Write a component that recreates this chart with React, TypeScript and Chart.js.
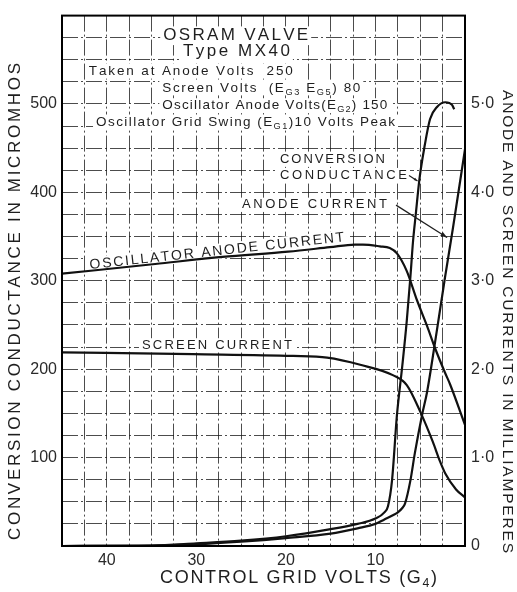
import React, { useEffect, useRef } from 'react';
import { Chart, registerables } from 'chart.js';
Chart.register(...registerables);

// ---------- data ----------
const xTickLabels = [40, 30, 20, 10];
const leftTickLabels = [100, 200, 300, 400, 500];
const rightTickLabels = [0, 1, 2, 3, 4, 5];

// Conversion conductance (micromhos) vs control grid volts
const convVolts = [45, 35, 30, 25, 20, 15, 12, 10, 9, 8.6, 8.15, 7.6, 7.0, 6.5, 6.1, 5.8, 5.5, 5.1, 4.5, 3.9, 3.1, 2.2, 1.45, 1.2];
const convMicromhos = [0, 0.5, 3, 6, 11, 19, 25, 31, 38, 45, 74, 148, 204, 255, 304, 345, 375, 414, 453, 483, 497, 502, 499, 494];

// Anode current (mA)
const anodeVolts = [45, 35, 30, 25, 20, 15, 12, 10, 9, 8, 7.5, 7.0, 6.7, 6.1, 5.6, 4.8, 4.24, 3.35, 2.23, 1.34, 0];
const anodeMA = [0, 0.005, 0.02, 0.05, 0.09, 0.14, 0.2, 0.25, 0.3, 0.35, 0.38, 0.43, 0.48, 0.74, 1.05, 1.48, 1.74, 2.3, 3.04, 3.6, 4.49];

// Oscillator anode current (mA)
const oscVolts = [45, 34.6, 27.1, 19.75, 15.1, 12.3, 11.4, 9.5, 8.4, 7.6, 6.5, 5.36, 4.24, 3.35, 2.23, 1.67, 0];
const oscMA = [3.08, 3.19, 3.27, 3.33, 3.38, 3.41, 3.41, 3.39, 3.37, 3.31, 3.11, 2.78, 2.49, 2.24, 1.96, 1.83, 1.37];

// Screen current (mA)
const screenVolts = [45, 30.4, 19.2, 15.4, 11.7, 8.0, 6.5, 5.0, 3.6, 2.8, 2.2, 1.0, 0];
const screenMA = [2.19, 2.17, 2.15, 2.13, 2.05, 1.93, 1.82, 1.52, 1.18, 0.96, 0.82, 0.64, 0.55];

// ---------- text ----------
const FONT = '"Liberation Sans", Arial, Helvetica, sans-serif';
const INK = '#1e1e1e';

type Part = { t: string; sub?: boolean };
type PlotLabel = { parts: Part[]; v: number; m: number; size: number; width: number; angle?: number };

const plotLabels: PlotLabel[] = [
  { parts: [{ t: 'OSRAM VALVE' }], v: 33.7, m: 572, size: 17, width: 145 },
  { parts: [{ t: 'Type MX40' }], v: 31.5, m: 554, size: 17, width: 107 },
  { parts: [{ t: 'Taken at Anode Volts  250' }], v: 42.0, m: 533, size: 13.5, width: 204 },
  { parts: [{ t: 'Screen Volts  (E' }, { t: 'G3', sub: true }, { t: ' E' }, { t: 'G5', sub: true }, { t: ') 80' }], v: 33.8, m: 514, size: 13.5, width: 198 },
  { parts: [{ t: 'Oscillator Anode Volts(E' }, { t: 'G2', sub: true }, { t: ') 150' }], v: 33.8, m: 494, size: 13.5, width: 225 },
  { parts: [{ t: 'Oscillator Grid Swing (E' }, { t: 'G1', sub: true }, { t: ')10 Volts Peak' }], v: 41.2, m: 475.6, size: 13.5, width: 299 },
  { parts: [{ t: 'CONVERSION' }], v: 20.66, m: 433, size: 13, width: 105 },
  { parts: [{ t: 'CONDUCTANCE' }], v: 20.66, m: 415.6, size: 13, width: 127 },
  { parts: [{ t: 'ANODE CURRENT' }], v: 24.9, m: 382, size: 13, width: 145 },
  { parts: [{ t: 'SCREEN CURRENT' }], v: 36.07, m: 223, size: 13, width: 150 },
  { parts: [{ t: 'OSCILLATOR ANODE CURRENT' }], v: 41.87, m: 313.3, size: 14, width: 256, angle: -6.2 },
];

// arrows in data units [fromV, fromM, toV, toM]
const anodeArrow = [7.7, 385.6, 2.0, 349];
const convArrow = [6.25, 419, 5.3, 413];

function drawSpaced(ctx: CanvasRenderingContext2D, parts: Part[], size: number, width: number) {
  const chars: { c: string; font: string; dy: number; w: number }[] = [];
  for (const p of parts) {
    const fs = p.sub ? size * 0.68 : size;
    const font = `${fs}px ${FONT}`;
    ctx.font = font;
    for (const c of p.t) chars.push({ c, font, dy: p.sub ? size * 0.22 : 0, w: ctx.measureText(c).width });
  }
  const nat = chars.reduce((a, b) => a + b.w, 0);
  const extra = chars.length > 1 ? (width - nat) / (chars.length - 1) : 0;
  let x = 0;
  ctx.textBaseline = 'alphabetic';
  ctx.textAlign = 'left';
  for (const ch of chars) {
    ctx.font = ch.font;
    ctx.fillText(ch.c, x, ch.dy);
    x += ch.w + extra;
  }
}

function drawLabel(ctx: CanvasRenderingContext2D, parts: Part[], x: number, y: number, size: number, width: number, angleDeg: number, bg: boolean) {
  ctx.save();
  ctx.translate(x, y);
  ctx.rotate((angleDeg * Math.PI) / 180);
  if (bg) {
    ctx.fillStyle = '#ffffff';
    ctx.fillRect(-3, -size * 0.82, width + 6, size * 1.1);
  }
  ctx.fillStyle = INK;
  drawSpaced(ctx, parts, size, width);
  ctx.restore();
}

function arrow(ctx: CanvasRenderingContext2D, x1: number, y1: number, x2: number, y2: number, head: number) {
  ctx.beginPath();
  ctx.moveTo(x1, y1);
  ctx.lineTo(x2, y2);
  ctx.stroke();
  const a = Math.atan2(y2 - y1, x2 - x1);
  ctx.beginPath();
  ctx.moveTo(x2, y2);
  ctx.lineTo(x2 - head * Math.cos(a - 0.35), y2 - head * Math.sin(a - 0.35));
  ctx.lineTo(x2 - head * Math.cos(a + 0.35), y2 - head * Math.sin(a + 0.35));
  ctx.closePath();
  ctx.fill();
}

const annotPlugin = {
  id: 'annot',
  beforeDatasetsDraw(chart: any) {
    const ctx: CanvasRenderingContext2D = chart.ctx;
    const xs = chart.scales.x;
    const ys = chart.scales.y;
    for (const L of plotLabels) {
      drawLabel(ctx, L.parts, xs.getPixelForValue(L.v), ys.getPixelForValue(L.m), L.size, L.width, L.angle || 0, true);
    }
  },
  afterDatasetsDraw(chart: any) {
    const ctx: CanvasRenderingContext2D = chart.ctx;
    const xs = chart.scales.x;
    const ys = chart.scales.y;
    ctx.save();
    ctx.strokeStyle = INK;
    ctx.fillStyle = INK;
    ctx.lineWidth = 1.2;
    arrow(ctx, xs.getPixelForValue(anodeArrow[0]), ys.getPixelForValue(anodeArrow[1]), xs.getPixelForValue(anodeArrow[2]), ys.getPixelForValue(anodeArrow[3]), 7);
    arrow(ctx, xs.getPixelForValue(convArrow[0]), ys.getPixelForValue(convArrow[1]), xs.getPixelForValue(convArrow[2]), ys.getPixelForValue(convArrow[3]), 4);
    // frame
    const a = chart.chartArea;
    ctx.lineWidth = 2;
    ctx.strokeStyle = '#000';
    ctx.strokeRect(a.left, a.top, a.right - a.left, a.bottom - a.top);
    ctx.restore();

    // axis titles
    ctx.save();
    ctx.fillStyle = INK;
    // left (reads bottom to top)
    ctx.save();
    ctx.translate(20, 540);
    ctx.rotate(-Math.PI / 2);
    drawSpaced(ctx, [{ t: 'CONVERSION CONDUCTANCE IN MICROMHOS' }], 17, 477);
    ctx.restore();
    // right (reads top to bottom)
    ctx.save();
    ctx.translate(503, 90);
    ctx.rotate(Math.PI / 2);
    drawSpaced(ctx, [{ t: 'ANODE AND SCREEN CURRENTS IN MILLIAMPERES' }], 15.5, 463);
    ctx.restore();
    // bottom
    ctx.save();
    ctx.translate(160, 583);
    drawSpaced(ctx, [{ t: 'CONTROL GRID VOLTS (G' }, { t: '4', sub: true }, { t: ')' }], 18, 277);
    ctx.restore();
    ctx.restore();
  },
};

const zip = (xs: number[], ys: number[]) => xs.map((x, i) => ({ x, y: ys[i] }));

const gridColor = 'rgba(25,25,25,0.78)';
const gridDash = [16, 3, 2, 3];

export default function App() {
  const ref = useRef<HTMLCanvasElement | null>(null);
  useEffect(() => {
    if (!ref.current) return;
    const lineStyle = {
      borderColor: '#111',
      borderWidth: 2.2,
      pointRadius: 0,
      fill: false,
      cubicInterpolationMode: 'monotone' as const,
    };
    const chart = new Chart(ref.current, {
      type: 'line',
      data: {
        datasets: [
          { label: 'Conversion conductance', data: zip(convVolts, convMicromhos), yAxisID: 'y', ...lineStyle },
          { label: 'Anode current', data: zip(anodeVolts, anodeMA), yAxisID: 'y1', ...lineStyle },
          { label: 'Oscillator anode current', data: zip(oscVolts, oscMA), yAxisID: 'y1', ...lineStyle },
          { label: 'Screen current', data: zip(screenVolts, screenMA), yAxisID: 'y1', ...lineStyle },
        ],
      },
      options: {
        animation: false,
        responsive: false,
        events: [],
        layout: { padding: { top: 6, left: 0, right: 0, bottom: 0 } },
        plugins: { legend: { display: false }, tooltip: { enabled: false } },
        scales: {
          x: {
            type: 'linear',
            min: 0,
            max: 45,
            reverse: true,
            afterFit: (s: any) => { s.height = 46; },
            ticks: {
              stepSize: 2.5,
              autoSkip: false,
              maxRotation: 0,
              padding: 5,
              color: '#2a2a2a',
              font: { family: FONT, size: 16 },
              callback: (v: any) => (xTickLabels.includes(Number(v)) ? String(v) : ''),
            },
            grid: { color: gridColor, lineWidth: 1, drawTicks: false },
            border: { display: false, dash: gridDash },
          },
          y: {
            type: 'linear',
            position: 'left',
            min: 0,
            max: 600,
            afterFit: (s: any) => { s.width = 62; },
            ticks: {
              stepSize: 25,
              autoSkip: false,
              padding: 5,
              color: '#2a2a2a',
              font: { family: FONT, size: 16 },
              callback: (v: any) => (leftTickLabels.includes(Number(v)) ? String(v) : ''),
            },
            grid: { color: gridColor, lineWidth: 1, drawTicks: false },
            border: { display: false, dash: gridDash },
          },
          y1: {
            type: 'linear',
            position: 'right',
            min: 0,
            max: 6,
            afterFit: (s: any) => { s.width = 52; },
            ticks: {
              stepSize: 0.25,
              autoSkip: false,
              padding: 6,
              color: '#2a2a2a',
              font: { family: FONT, size: 16 },
              callback: (v: any) => {
                const n = Number(v);
                if (!rightTickLabels.includes(n)) return '';
                return n === 0 ? '0' : `${n}·0`;
              },
            },
            grid: { display: false, drawOnChartArea: false, drawTicks: false },
            border: { display: false },
          },
        },
      },
      plugins: [annotPlugin],
    });
    return () => chart.destroy();
  }, []);
  return (
    <div style={{ position: 'fixed', left: 0, top: 0, width: 517, height: 592, background: '#fff' }}>
      <canvas ref={ref} width={517} height={592} style={{ display: 'block' }} />
    </div>
  );
}
